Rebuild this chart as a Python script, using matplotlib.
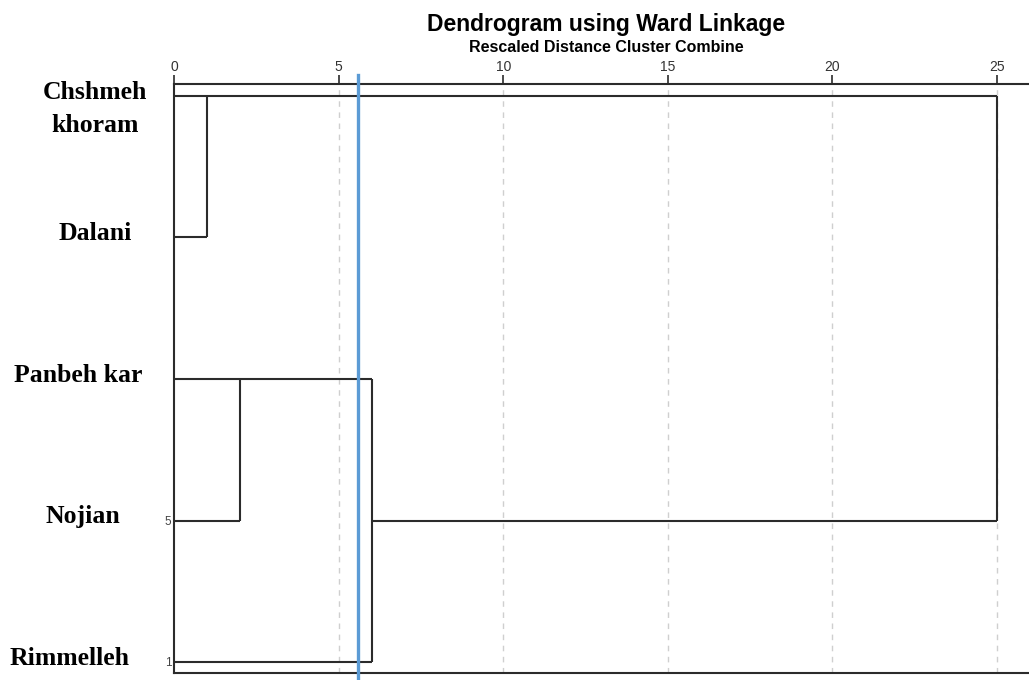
import matplotlib.pyplot as plt

# leaves in display order (top to bottom)
leaf_names = ['Chshmeh\nkhoram', 'Dalani', 'Panbeh kar', 'Nojian', 'Rimmelleh']
# merges: (node a, node b, rescaled distance); new nodes are numbered from 5
merges = [(0, 1, 1.0), (2, 3, 2.0), (6, 4, 6.0), (5, 7, 25.0)]
case_rows = [3, 4]
case_labels = ['5', '1']
xticks = [0, 5, 10, 15, 20, 25]
cut_line = 5.6

W, H = 1029, 680
fig = plt.figure(figsize=(W / 100, H / 100), dpi=100)
ax = fig.add_axes([174 / W, 1 - 673 / H, (1028 - 174) / W, (673 - 84) / H])

ax.set_xlim(0, 25.94)
ax.set_ylim(4 + 11 / 141.5, -12 / 141.5)

line_kw = dict(color='#2b2b2b', lw=1.5, solid_capstyle='butt')

# node -> (row, x)
nodes = {i: (i, 0.0) for i in range(len(leaf_names))}
for k, (a, b, h) in enumerate(merges):
    ra, xa = nodes[a]
    rb, xb = nodes[b]
    ax.plot([xa, h], [ra, ra], **line_kw)
    ax.plot([xb, h], [rb, rb], **line_kw)
    ax.plot([h, h], [ra, rb], **line_kw)
    nodes[len(leaf_names) + k] = ((ra + rb) // 2, h)

# dashed grid
for t in xticks[1:]:
    ax.axvline(t, color='#cfcfcf', lw=1.0, ls=(0, (4, 4)), zorder=0)

# cut line
ax.plot([cut_line, cut_line], [1.016, -0.012], color='#5b9bd5', lw=2.4,
        transform=ax.get_xaxis_transform(), clip_on=False, zorder=5)

ax.xaxis.tick_top()
ax.set_xticks(xticks)
ax.set_xticklabels([str(t) for t in xticks], fontsize=10, color='#333333',
                   family='Liberation Sans')
ax.tick_params(axis='x', direction='out', length=6.5, width=1.2, pad=1,
               colors='#2b2b2b', labelcolor='#333333')
ax.set_yticks(case_rows)
ax.set_yticklabels(case_labels, fontsize=8.5, color='#444444', family='Liberation Sans')
ax.tick_params(axis='y', length=0, pad=2)
for s in ['top', 'left', 'bottom']:
    ax.spines[s].set_color('#2b2b2b')
    ax.spines[s].set_linewidth(1.5)
ax.spines['right'].set_visible(False)

# leaf names
label_cx = [95, 95, 78, 83, 70]
for i, name in enumerate(leaf_names):
    for j, line in enumerate(name.split('\n')):
        y_fig = ax.transData.transform((0, i))[1] - j * 33 - 3
        fig.text(label_cx[i] / W, y_fig / H, line, ha='center', va='baseline',
                 fontsize=18.5, fontweight='bold', family='Liberation Serif')

fig.text(606 / W, 1 - 25 / H, 'Dendrogram using Ward Linkage', ha='center', va='center',
         fontsize=16.5, fontweight='bold', family='Liberation Sans')
fig.text(606 / W, 1 - 48 / H, 'Rescaled Distance Cluster Combine', ha='center', va='center',
         fontsize=11.5, fontweight='bold', family='Liberation Sans')

fig.savefig('out.png', dpi=100)
